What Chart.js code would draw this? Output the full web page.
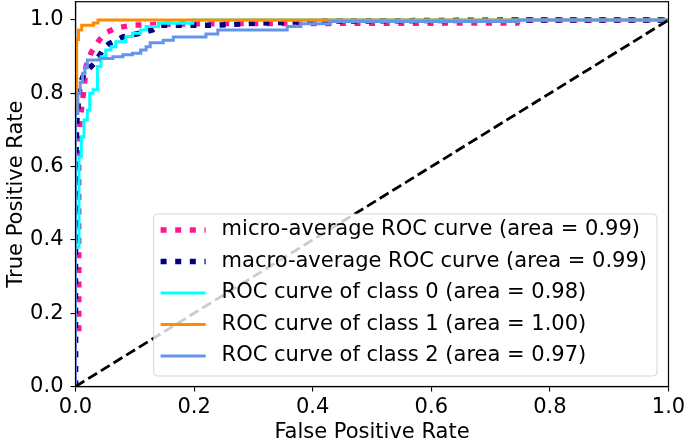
<!DOCTYPE html>
<html>
<head>
<meta charset="utf-8">
<script src="https://cdn.jsdelivr.net/npm/chart.js@4.4.0/dist/chart.umd.min.js"></script>
<style>
  body { margin: 0; background: #fff; }
  canvas { display: block; }
</style>
</head>
<body>
<canvas id="roc" width="685" height="445"></canvas>
<script>
// ROC data (false positive rate / true positive rate)
var microFpr = [0, 0, 0.0055, 0.0055, 0.008, 0.012, 0.016, 0.0177, 0.026, 0.04, 0.051, 0.068, 0.096, 0.2, 0.745, 0.747, 1];
var microTpr = [0, 0.15, 0.15, 0.68, 0.73, 0.78, 0.84, 0.873, 0.91, 0.945, 0.965, 0.978, 0.986, 0.99, 0.992, 1, 1];

var macroFpr = [0, 0, 0.002, 0.005, 0.0075, 0.01, 0.015, 0.032, 0.046, 0.057, 0.08, 0.108, 0.13, 0.143, 0.239, 0.3, 0.42, 0.747, 1];
var macroTpr = [0, 0.58, 0.72, 0.78, 0.818, 0.835, 0.855, 0.882, 0.918, 0.936, 0.954, 0.964, 0.973, 0.986, 0.986, 0.991, 0.997, 1, 1];

var class0Fpr = [0, 0, 0.006, 0.006, 0.0098, 0.0098, 0.0143, 0.0143, 0.02, 0.02, 0.024, 0.024, 0.0295, 0.0295, 0.037, 0.037, 0.043, 0.043, 0.051, 0.051, 0.06, 0.06, 0.068, 0.068, 0.085, 0.085, 0.096, 0.096, 0.11, 0.11, 0.119, 0.119, 0.14, 0.14, 0.198, 0.198, 1];
var class0Tpr = [0, 0.38, 0.38, 0.627, 0.627, 0.681, 0.681, 0.727, 0.727, 0.754, 0.754, 0.80, 0.80, 0.81, 0.81, 0.873, 0.873, 0.90, 0.90, 0.918, 0.918, 0.927, 0.927, 0.941, 0.941, 0.955, 0.955, 0.964, 0.964, 0.973, 0.973, 0.982, 0.982, 0.991, 0.991, 1, 1];

var class1Fpr = [0, 0, 0.002, 0.002, 0.005, 0.005, 0.0105, 0.0105, 0.03, 0.03, 0.038, 0.038, 1];
var class1Tpr = [0, 0.775, 0.775, 0.947, 0.947, 0.973, 0.973, 0.986, 0.986, 0.992, 0.992, 1, 1];

var class2Fpr = [0, 0, 0.004, 0.004, 0.008, 0.008, 0.012, 0.012, 0.016, 0.016, 0.02, 0.02, 0.04, 0.04, 0.063, 0.063, 0.08, 0.08, 0.096, 0.096, 0.11, 0.11, 0.119, 0.119, 0.126, 0.126, 0.148, 0.148, 0.165, 0.165, 0.22, 0.22, 0.24, 0.24, 0.357, 0.357, 0.38, 0.38, 0.43, 0.43, 0.747, 0.747, 1];
var class2Tpr = [0, 0.745, 0.745, 0.80, 0.80, 0.83, 0.83, 0.855, 0.855, 0.872, 0.872, 0.891, 0.891, 0.895, 0.895, 0.90, 0.90, 0.905, 0.905, 0.909, 0.909, 0.918, 0.918, 0.927, 0.927, 0.938, 0.938, 0.945, 0.945, 0.954, 0.954, 0.962, 0.962, 0.973, 0.973, 0.982, 0.982, 0.99, 0.99, 0.996, 0.996, 1, 1];

var chanceFpr = [0, 1];
var chanceTpr = [0, 1];

var seriesLabels = [
    'micro-average ROC curve (area = 0.99)',
    'macro-average ROC curve (area = 0.99)',
    'ROC curve of class 0 (area = 0.98)',
    'ROC curve of class 1 (area = 1.00)',
    'ROC curve of class 2 (area = 0.97)'
];

var xTicks = [0, 0.2, 0.4, 0.6, 0.8, 1.0];
var yTicks = [0, 0.2, 0.4, 0.6, 0.8, 1.0];

var FONT = 'DejaVu Sans';

function pts(xs, ys) {
    var out = [];
    for (var i = 0; i < xs.length; i++) {
        out.push({x: xs[i], y: ys[i]});
    }
    return out;
}

// box around the plot + legend in the lower right, matplotlib style
var frameAndLegend = {
    id: 'frameAndLegend',
    afterDatasetsDraw: function(chart) {
        var ctx = chart.ctx;
        var a = chart.chartArea;

        ctx.save();
        ctx.strokeStyle = '#000';
        ctx.lineWidth = 1.2;
        ctx.strokeRect(a.left, a.top, a.right - a.left, a.bottom - a.top);

        ctx.font = '21px "' + FONT + '"';
        var items = chart.data.datasets.filter(function(d) { return d.inLegend; });
        var maxW = 0;
        items.forEach(function(d) {
            maxW = Math.max(maxW, ctx.measureText(d.label).width);
        });

        var rowH = 31.5;
        var w = 68 + maxW + 10;
        var h = 16 + rowH * (items.length - 1) + 20;
        var right = a.right - 11.5;
        var bottom = a.bottom - 10.5;
        var left = right - w;
        var top = bottom - h;
        var r = 4;

        ctx.beginPath();
        ctx.moveTo(left + r, top);
        ctx.lineTo(right - r, top);
        ctx.arcTo(right, top, right, top + r, r);
        ctx.lineTo(right, bottom - r);
        ctx.arcTo(right, bottom, right - r, bottom, r);
        ctx.lineTo(left + r, bottom);
        ctx.arcTo(left, bottom, left, bottom - r, r);
        ctx.lineTo(left, top + r);
        ctx.arcTo(left, top, left + r, top, r);
        ctx.closePath();
        ctx.fillStyle = 'rgba(255,255,255,0.8)';
        ctx.fill();
        ctx.strokeStyle = 'rgba(204,204,204,0.8)';
        ctx.lineWidth = 1;
        ctx.stroke();

        items.forEach(function(d, i) {
            var y = top + 16 + i * rowH;
            ctx.beginPath();
            ctx.setLineDash(d.borderDash || []);
            ctx.lineCap = 'butt';
            ctx.strokeStyle = d.borderColor;
            ctx.lineWidth = d.borderWidth;
            ctx.moveTo(left + 7, y);
            ctx.lineTo(left + 52, y);
            ctx.stroke();
            ctx.setLineDash([]);

            ctx.fillStyle = '#000';
            ctx.textBaseline = 'middle';
            ctx.textAlign = 'left';
            ctx.fillText(d.label, left + 68, y);
        });
        ctx.restore();
    }
};

var dotted = [6, 8.6];

var ctx = document.getElementById('roc');
var rocChart = new Chart(ctx, {
    type: 'line',
    data: {
        datasets: [{
            label: seriesLabels[0],
            data: pts(microFpr, microTpr),
            borderColor: '#ff1493',
            borderWidth: 5.5,
            borderDash: dotted,
            inLegend: true,
            order: 6
        }, {
            label: seriesLabels[1],
            data: pts(macroFpr, macroTpr),
            borderColor: '#000080',
            borderWidth: 5.5,
            borderDash: dotted,
            inLegend: true,
            order: 5
        }, {
            label: seriesLabels[2],
            data: pts(class0Fpr, class0Tpr),
            borderColor: '#00ffff',
            borderWidth: 3,
            inLegend: true,
            order: 4
        }, {
            label: seriesLabels[3],
            data: pts(class1Fpr, class1Tpr),
            borderColor: '#ff8c00',
            borderWidth: 3,
            inLegend: true,
            order: 3
        }, {
            label: seriesLabels[4],
            data: pts(class2Fpr, class2Tpr),
            borderColor: '#6495ed',
            borderWidth: 3,
            inLegend: true,
            order: 2
        }, {
            label: 'chance',
            data: pts(chanceFpr, chanceTpr),
            borderColor: '#000',
            borderWidth: 2.8,
            borderDash: [10.4, 4.5],
            inLegend: false,
            order: 1
        }]
    },
    options: {
        responsive: false,
        animation: false,
        layout: { padding: { top: 1.7, right: 16.5, bottom: 0, left: 0 } },
        elements: {
            point: { radius: 0 },
            line: { tension: 0, fill: false, borderCapStyle: 'butt' }
        },
        datasets: { line: { clip: 0 } },
        plugins: {
            legend: { display: false },
            tooltip: { enabled: false }
        },
        scales: {
            x: {
                type: 'linear',
                min: 0,
                max: 1,
                afterBuildTicks: function(scale) {
                    scale.ticks = xTicks.map(function(v) { return {value: v}; });
                },
                afterFit: function(scale) {
                    scale.height = 58.5;
                    scale.paddingLeft = 0;
                    scale.paddingRight = 0;
                },
                grid: { drawOnChartArea: false, drawTicks: true, tickLength: 5, color: '#000', lineWidth: 1.1 },
                border: { display: true, color: '#000', width: 1.2 },
                ticks: {
                    padding: 3,
                    color: '#000',
                    maxRotation: 0,
                    autoSkip: false,
                    font: { family: FONT, size: 21 },
                    callback: function(v) { return Number(v).toFixed(1); }
                },
                title: {
                    display: true,
                    text: 'False Positive Rate',
                    color: '#000',
                    font: { family: FONT, size: 21 },
                    padding: { top: 0, bottom: 0 }
                }
            },
            y: {
                type: 'linear',
                min: 0,
                max: 1.05,
                afterBuildTicks: function(scale) {
                    scale.ticks = yTicks.map(function(v) { return {value: v}; });
                },
                afterFit: function(scale) {
                    scale.width = 75.5;
                    scale.paddingTop = 0;
                    scale.paddingBottom = 0;
                },
                grid: { drawOnChartArea: false, drawTicks: true, tickLength: 5, color: '#000', lineWidth: 1.1 },
                border: { display: true, color: '#000', width: 1.2 },
                ticks: {
                    padding: 7,
                    color: '#000',
                    autoSkip: false,
                    font: { family: FONT, size: 21 },
                    callback: function(v) { return Number(v).toFixed(1); }
                },
                title: {
                    display: true,
                    text: 'True Positive Rate',
                    color: '#000',
                    font: { family: FONT, size: 21 },
                    padding: { top: 3.5, bottom: 0 }
                }
            }
        }
    },
    plugins: [frameAndLegend]
});
</script>
</body>
</html>
